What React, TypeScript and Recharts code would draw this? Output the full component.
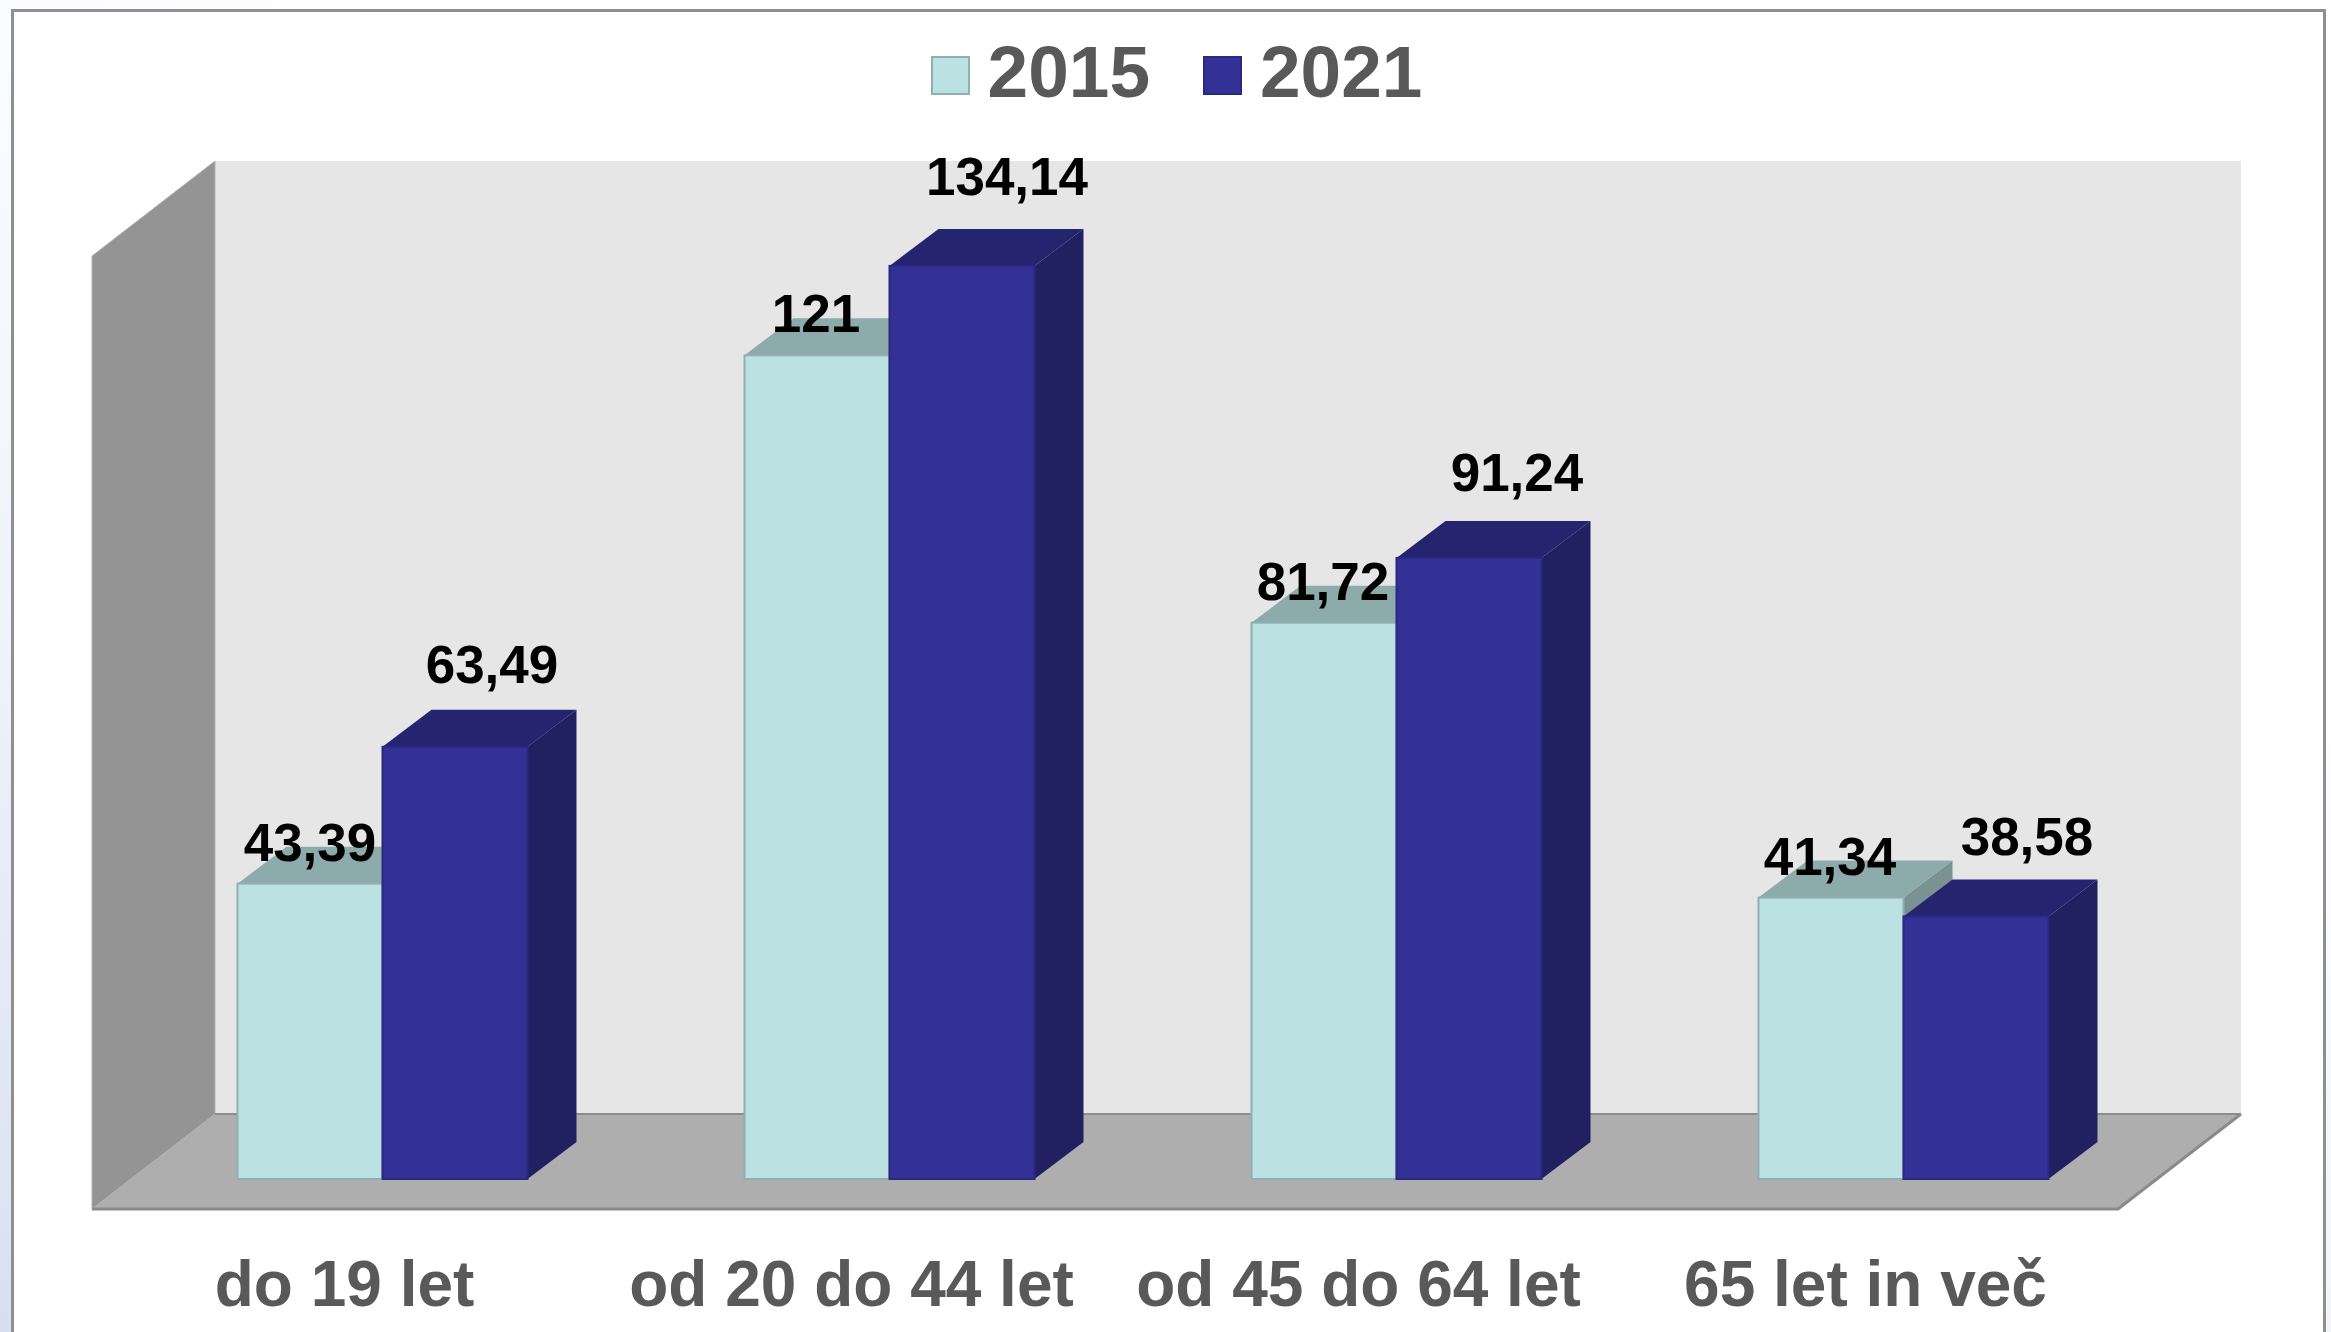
import { BarChart, Bar, XAxis, YAxis, Legend, LabelList, usePlotArea } from "recharts";

const categories = ["do 19 let", "od 20 do 44 let", "od 45 do 64 let", "65 let in več"];
const values2015 = [43.39, 121, 81.72, 41.34];
const values2021 = [63.49, 134.14, 91.24, 38.58];

const data = categories.map((name, i) => ({
  name,
  y2015: values2015[i],
  y2021: values2021[i],
}));

// hand-placed data labels in the original, offset from the bar's top centre
const nudge2015 = [[0, -42], [-1, -42], [-1, -42], [-1, -42]];
const nudge2021 = [[37, -83], [45, -90], [48, -86], [51, -80]];

const DEPTH_X = 49;
const DEPTH_Y = 37;
const FONT = "'Liberation Sans', Arial, sans-serif";

const pts = (list: number[][]) => list.map((p) => p.join(",")).join(" ");

function Backdrop() {
  const plot = usePlotArea();
  if (!plot) return null;
  const l = plot.x - 37;
  const r = plot.x + plot.width - 39;
  const top = plot.y + 30;
  const bottom = plot.y + plot.height + 30;
  const bx = 123;
  const by = 95;
  return (
    <g>
      <rect x={l + bx} y={top - by} width={r - l} height={bottom - top} fill="#e6e6e6" />
      <polygon
        points={pts([[l, top], [l + bx, top - by], [l + bx, bottom - by], [l, bottom]])}
        fill="#949494"
        stroke="#b0b0b0"
        strokeWidth={1}
      />
      <polygon
        points={pts([[l, bottom], [l + bx, bottom - by], [r + bx, bottom - by], [r, bottom]])}
        fill="#aeaeae"
      />
      <line x1={l + bx} y1={bottom - by} x2={r + bx} y2={bottom - by} stroke="#8c8c8c" strokeWidth={2} />
      <polyline points={pts([[l, bottom], [r, bottom], [r + bx, bottom - by]])} fill="none" stroke="#8a8a8a" strokeWidth={3} />
    </g>
  );
}

function Bar3D(props: any) {
  const { x, y, width, height, front, top, side, line } = props;
  return (
    <g>
      <polygon
        points={pts([[x + width, y], [x + width + DEPTH_X, y - DEPTH_Y], [x + width + DEPTH_X, y + height - DEPTH_Y], [x + width, y + height]])}
        fill={side}
      />
      <polygon
        points={pts([[x, y], [x + DEPTH_X, y - DEPTH_Y], [x + width + DEPTH_X, y - DEPTH_Y], [x + width, y]])}
        fill={top}
      />
      <rect x={x} y={y} width={width} height={height} fill={front} stroke={line} strokeWidth={2} />
    </g>
  );
}

function valueLabel(nudges: number[][]) {
  return (props: any) => {
    const { x, y, width, value, index } = props;
    const [dx, dy] = nudges[index];
    return (
      <text
        x={x + width / 2 + dx}
        y={y + dy + 19}
        textAnchor="middle"
        fontFamily={FONT}
        fontWeight={700}
        fontSize={53}
        fill="#000000"
      >
        {String(value).replace(".", ",")}
      </text>
    );
  };
}

function LegendRow({ payload }: any) {
  return (
    <div style={{ display: "flex", justifyContent: "center", alignItems: "center", gap: 53 }}>
      {(payload || []).map((entry: any) => (
        <div key={entry.value} style={{ display: "flex", alignItems: "center", gap: 18 }}>
          <span
            style={{
              width: 39,
              height: 39,
              marginTop: 6,
              boxSizing: "border-box",
              background: entry.color,
              border: `2px solid ${entry.value === "2015" ? "#8fb0b2" : "#2a2980"}`,
              display: "inline-block",
            }}
          />
          <span style={{ fontFamily: FONT, fontWeight: 700, fontSize: 73, color: "#595959", lineHeight: "84px" }}>
            {entry.value}
          </span>
        </div>
      ))}
    </div>
  );
}

export default function App() {
  return (
    <div
      style={{
        position: "absolute",
        left: 0,
        top: 0,
        width: 2331,
        height: 1332,
        overflow: "hidden",
        background: "linear-gradient(20deg, #d8e0f0 0%, #f2f4fb 35%, #ffffff 70%)",
      }}
    >
      <div
        style={{
          position: "absolute",
          left: 11,
          top: 9,
          width: 2309,
          height: 1400,
          background: "#ffffff",
          border: "3px solid #8f8f8f",
        }}
      />
      <div style={{ position: "absolute", left: 0, top: 0 }}>
        <BarChart
          width={2331}
          height={1332}
          data={data}
          margin={{ top: 142, right: 174, left: 129, bottom: 0 }}
          barCategoryGap="21.4%"
          barGap={0}
        >
          <Backdrop />
          <XAxis
            dataKey="name"
            height={153}
            axisLine={false}
            tickLine={false}
            interval={0}
            tickMargin={76}
            tick={{ dx: -38, fontFamily: FONT, fontWeight: 700, fontSize: 64, fill: "#595959" }}
          />
          <YAxis hide domain={[0, 140]} />
          <Legend
            verticalAlign="top"
            wrapperStyle={{ top: 30, left: 18, width: 2331 - 14 }}
            content={<LegendRow />}
          />
          <Bar
            dataKey="y2015"
            name="2015"
            fill="#bce1e2"
            isAnimationActive={false}
            shape={(p: any) => <Bar3D {...p} front="#bce1e2" top="#8eabac" side="#7a9292" line="#8fb0b2" />}
          >
            <LabelList dataKey="y2015" content={valueLabel(nudge2015)} />
          </Bar>
          <Bar
            dataKey="y2021"
            name="2021"
            fill="#333096"
            isAnimationActive={false}
            shape={(p: any) => <Bar3D {...p} front="#333096" top="#25246f" side="#212060" line="#2a2980" />}
          >
            <LabelList dataKey="y2021" content={valueLabel(nudge2021)} />
          </Bar>
        </BarChart>
      </div>
    </div>
  );
}
